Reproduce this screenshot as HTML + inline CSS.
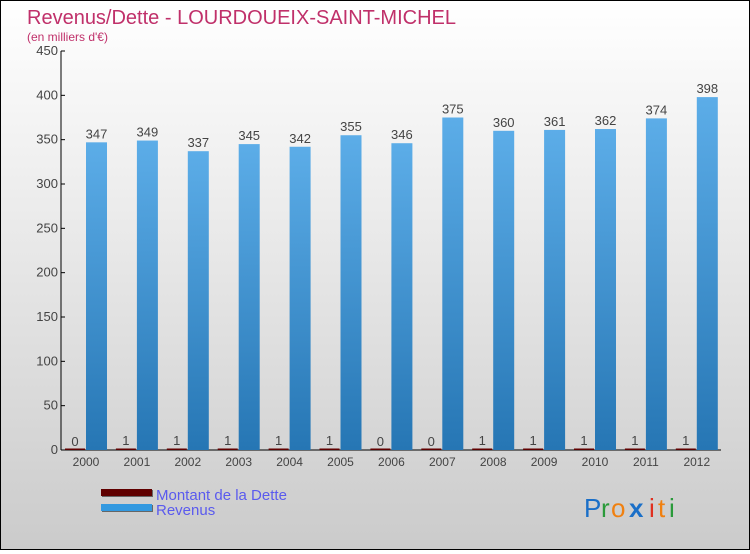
<!DOCTYPE html>
<html><head><meta charset="utf-8"><style>
html,body{margin:0;padding:0}
body{width:750px;height:550px;overflow:hidden;font-family:"Liberation Sans","DejaVu Sans",sans-serif}
#wrap{position:relative;width:748px;height:548px;border:1px solid #000;background:linear-gradient(#fff 0%,#e8e8e8 45%,#cbcbcb 100%)}
svg text{font-family:"Liberation Sans","DejaVu Sans",sans-serif}
</style></head><body>
<div id="wrap">
<svg id="chart" width="748" height="548">
<defs>
<linearGradient id="gb" x1="0" y1="0" x2="0" y2="1"><stop offset="0" stop-color="#5cade8"/><stop offset="1" stop-color="#2676b4"/></linearGradient>
</defs>
<text x="26" y="23" font-size="20" fill="#c0306a">Revenus/Dette - LOURDOUEIX-SAINT-MICHEL</text>
<text x="26" y="40" font-size="12" fill="#c0306a">(en milliers d'€)</text>
<g id="axes"></g>
<g id="bars"></g>
<g>
<rect x="101" y="489" width="51" height="7" fill="#666"/>
<rect x="100" y="488" width="51" height="7" fill="#600000"/>
<text x="155" y="499" font-size="15" fill="#5a5aee">Montant de la Dette</text>
<rect x="101" y="504" width="51" height="7" fill="#666"/>
<rect x="100" y="503" width="51" height="7" fill="#3399e0"/>
<text x="155" y="514" font-size="15" fill="#5a5aee">Revenus</text>
</g>
<g font-size="26">
<text x="583" y="516" fill="#1a6fc8">P</text><text x="600" y="516" fill="#2a9a3a">r</text><text x="610" y="516" fill="#f08010">o</text><text x="628" y="516" fill="#1a6fc8" font-weight="bold">x</text><text x="648" y="516" fill="#e03020">i</text><text x="657" y="516" fill="#f08010">t</text><text x="668" y="516" fill="#2a9a3a">i</text>
</g>
</svg>
</div>
<script>
const years=["2000","2001","2002","2003","2004","2005","2006","2007","2008","2009","2010","2011","2012"];
const revenus=[347,349,337,345,342,355,346,375,360,361,362,374,398];
const dette=[0,1,1,1,1,1,0,0,1,1,1,1,1];
const yTicks=[0,50,100,150,200,250,300,350,400,450];
const NS="http://www.w3.org/2000/svg";
const y0=449,yTop=50,maxV=450,x0=60,step=50.9;
function yS(v){return y0-(v/maxV)*(y0-yTop);}
function xC(i){return x0+25+i*step;}
function mk(t,a,p){const e=document.createElementNS(NS,t);for(const k in a)e.setAttribute(k,a[k]);p.appendChild(e);return e;}
const ax=document.getElementById('axes'),bars=document.getElementById('bars');
const yl=mk('line',{x1:x0,y1:yTop,x2:x0,y2:y0,stroke:'#000'},ax);


const xl=mk('line',{x1:x0,y1:y0,x2:720,y2:y0,stroke:'#000'},ax);


yTicks.forEach(v=>{
  mk('line',{x1:x0,y1:yS(v),x2:x0+4,y2:yS(v),stroke:'#000'},ax);
  const t=mk('text',{x:x0-3,y:yS(v)+4,'font-size':13,fill:'#444','text-anchor':'end'},ax);
  t.textContent=v;
  
  
});
years.forEach((yr,i)=>{
  const c=xC(i);
  const t=mk('text',{x:c,y:y0+16,'font-size':12,fill:'#444','text-anchor':'middle'},ax);
  t.textContent=yr;
  
  
  const dh=Math.max(1.5,y0-yS(dette[i]));
  const d=mk('rect',{x:c-21,y:y0-dh,width:20,height:dh,fill:'#600000'},bars);
  
  
  const dl=mk('text',{x:c-11,y:yS(dette[i])-4,'font-size':13,fill:'#444','text-anchor':'middle'},bars);
  dl.textContent=dette[i];
  
  
  const r=mk('rect',{x:c,y:yS(revenus[i]),width:21,height:y0-yS(revenus[i]),fill:'url(#gb)'},bars);
  
  
  const rl=mk('text',{x:c+10.5,y:yS(revenus[i])-4,'font-size':13,fill:'#444','text-anchor':'middle'},bars);
  rl.textContent=revenus[i];
  
  
});
</script>
</body></html>
